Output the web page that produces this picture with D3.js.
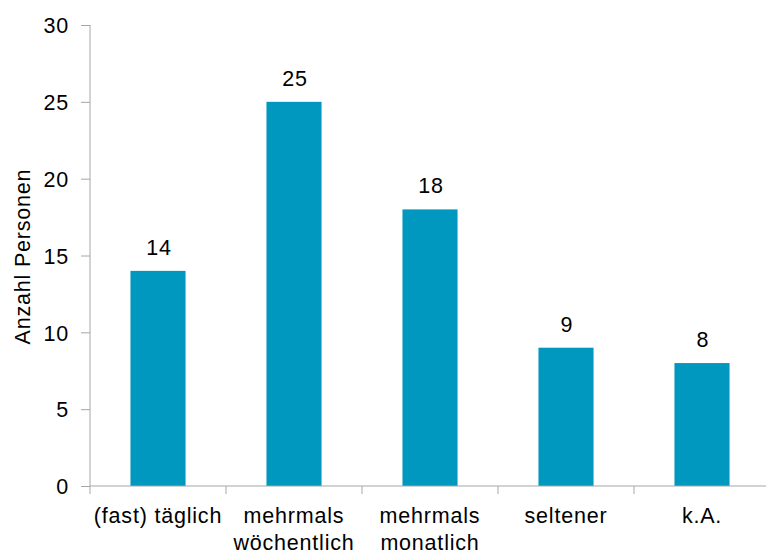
<!DOCTYPE html>
<html>
<head>
<meta charset="utf-8">
<script src="https://cdn.jsdelivr.net/npm/d3@7"></script>
<style>
  body { margin: 0; background: #fff; }
  text { font-family: "Liberation Sans", Arial, sans-serif; fill: #000; font-size: 21.5px; letter-spacing: 0.8px; }
</style>
</head>
<body>
<svg id="Chart"></svg>
<script>
// data
let categories = [["(fast) täglich"], ["mehrmals", "wöchentlich"], ["mehrmals", "monatlich"], ["seltener"], ["k.A."]]
let counts = [14, 25, 18, 9, 8]
let yTicks = [0, 5, 10, 15, 20, 25, 30]

function getConfig() {
  let width = 766
  let height = 554
  let margin = { top: 25, bottom: 68, left: 90, right: -4 }
  let bodyHeight = height - margin.top - margin.bottom
  let bodyWidth = width - margin.left - margin.right
  let container = d3.select("#Chart")
    .attr("width", width)
    .attr("height", height)
  return { width, height, margin, bodyHeight, bodyWidth, container }
}

function getScales(config) {
  let { bodyWidth, bodyHeight } = config
  let keys = categories.map(c => c.join(" "))
  let xBand = d3.scaleBand()
    .range([0, bodyWidth])
    .domain(keys)
  // bars are narrower than the category slot, centred in it
  let xBar = d3.scaleBand()
    .range([0, bodyWidth])
    .domain(keys)
    .paddingInner(0.595)
    .paddingOuter(0.2975)
  let yScale = d3.scaleLinear()
    .range([bodyHeight, 0])
    .domain([0, 30])
  return { xBand, xBar, yScale, keys }
}

function drawBars(scales, config) {
  let { margin, container } = config
  let { xBar, yScale, keys } = scales
  let body = container.append("g")
    .attr("transform", `translate(${margin.left},${margin.top})`)

  body.selectAll(".bar")
    .data(counts)
    .enter().append("rect")
    .attr("class", "bar")
    .attr("x", (d, i) => xBar(keys[i]))
    .attr("width", xBar.bandwidth())
    .attr("y", d => yScale(d))
    .attr("height", d => yScale(0) - yScale(d))
    .attr("fill", "#0098be")

  body.selectAll(".val")
    .data(counts)
    .enter().append("text")
    .attr("class", "val")
    .attr("x", (d, i) => xBar(keys[i]) + xBar.bandwidth() / 2 + 1)
    .attr("y", d => yScale(d) - 16)
    .attr("text-anchor", "middle")
    .text(d => d)
}

function drawAxes(scales, config) {
  let { xBand, yScale, keys } = scales
  let { container, margin, bodyHeight, width } = config

  // y axis
  let axisY = d3.axisLeft(yScale)
    .tickValues(yTicks)
    .tickSize(9)
    .tickPadding(12)
  let gy = container.append("g")
    .attr("transform", `translate(${margin.left},${margin.top})`)
    .call(axisY)
  gy.attr("font-size", null).attr("font-family", null)
  gy.select(".domain").attr("stroke", "#a6a6a6").attr("d", `M0,0V${bodyHeight}`)
  gy.selectAll(".tick line").attr("stroke", "#a6a6a6")
  gy.selectAll(".tick text")
    .attr("dy", "0.36em")

  // x axis: ticks sit between categories
  let gx = container.append("g")
    .attr("transform", `translate(${margin.left},${margin.top + bodyHeight})`)
  gx.append("line")
    .attr("x1", 0).attr("x2", width)
    .attr("stroke", "#a6a6a6")
  let bounds = keys.map(k => xBand(k))
  gx.selectAll(".xtick")
    .data(bounds)
    .enter().append("line")
    .attr("class", "xtick")
    .attr("x1", d => d).attr("x2", d => d)
    .attr("y1", 0).attr("y2", 8)
    .attr("stroke", "#a6a6a6")

  let labels = gx.selectAll(".xlab")
    .data(categories)
    .enter().append("text")
    .attr("class", "xlab")
    .attr("text-anchor", "middle")
    .attr("transform", (d, i) => `translate(${xBand(keys[i]) + xBand.bandwidth() / 2},37)`)
  labels.selectAll("tspan")
    .data(d => d)
    .enter().append("tspan")
    .attr("x", 0)
    .attr("y", (d, i) => i * 27)
    .text(d => d)

  // y label
  container.append("text")
    .attr("transform", `translate(30,${margin.top + bodyHeight / 2 + 1}) rotate(-90)`)
    .attr("text-anchor", "middle")
    .text("Anzahl Personen")
}

function showData() {
  let config = getConfig()
  let scales = getScales(config)
  drawBars(scales, config)
  drawAxes(scales, config)
}

showData()
</script>
</body>
</html>
